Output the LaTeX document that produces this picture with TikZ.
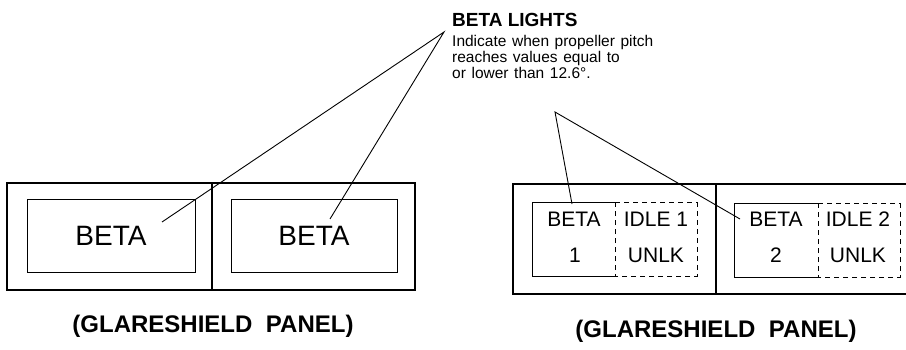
\documentclass[tikz,border=0pt]{standalone}
\usepackage{fontspec}
\setmainfont{Liberation Sans}
\newfontfamily\descfont[WordSpace=1.5]{Liberation Sans}
\newfontfamily\capfont[WordSpace=1.3]{Liberation Sans}
\begin{document}
\begin{tikzpicture}[x=1pt,y=-1pt,
  frame/.style={line width=1.5pt},
  lamp/.style={line width=1pt},
  dlamp/.style={line width=1pt,dash pattern=on 5pt off 4pt},
  leader/.style={line width=0.9pt},
  bigtxt/.style={inner sep=0pt,font=\fontsize{28}{28}\selectfont},
  smtxt/.style={inner sep=0pt,font=\fontsize{21}{21}\selectfont},
  captxt/.style={inner sep=0pt,font=\capfont\bfseries\fontsize{24}{24}\selectfont}]
\useasboundingbox (0,0) rectangle (906,350);
% left panel
\draw[frame] (7,183) rectangle (415,290);
\draw[frame] (212,183) -- (212,290);
\draw[lamp] (27,200) rectangle (195,272);
\draw[lamp] (231,200) rectangle (397,272);
\node[bigtxt] (b1) at (111,236) {BETA};
\node[bigtxt] (b2) at (314,236) {BETA};
% right panel
\draw[frame] (906,184) -- (513,184) -- (513,294) -- (906,294);
\draw[frame] (716,184) -- (716,294);
\draw[lamp] (615,203) -- (532,203) -- (532,276) -- (615,276);
\draw[dlamp] (615,203) -- (697,203) -- (697,276) -- (615,276) -- cycle;
\draw[lamp] (818,204) -- (734,204) -- (734,277) -- (818,277);
\draw[dlamp] (818,204) -- (900,204) -- (900,277) -- (818,277) -- cycle;
\node[smtxt] (r1a) at (574,219) {BETA};
\node[smtxt] (r1b) at (575,255) {1};
\node[smtxt] (r1c) at (656,219) {IDLE 1};
\node[smtxt] (r1d) at (656,255) {UNLK};
\node[smtxt] (r2a) at (776,219) {BETA};
\node[smtxt] (r2b) at (776,255) {2};
\node[smtxt] (r2c) at (858,219) {IDLE 2};
\node[smtxt] (r2d) at (858,255) {UNLK};
% captions
\node[captxt] (c1) at (213,326) {(GLARESHIELD\hspace{0.2em} PANEL)};
\node[captxt] (c2) at (716,331) {(GLARESHIELD\hspace{0.2em} PANEL)};
% annotation
\node[inner sep=0pt,anchor=base west,font=\bfseries\fontsize{19}{19}\selectfont] (title) at (452,27) {BETA LIGHTS};
\node[inner sep=0pt,anchor=north west,align=left,font=\descfont\fontsize{15.5}{16}\selectfont] (desc) at (452,35)
  {Indicate when propeller pitch\\reaches values equal to\\or lower than 12.6°.};
% leaders
\coordinate (apA) at (444,32);
\coordinate (apB) at (555,112);
\coordinate (eA) at (162,222);
\coordinate (eB) at (330,219);
\coordinate (eC) at (572,204);
\coordinate (eD) at (740,219);
\draw[leader] (eA) -- (apA) -- (eB);
\draw[leader] (eC) -- (apB) -- (eD);
\end{tikzpicture}
\end{document}
